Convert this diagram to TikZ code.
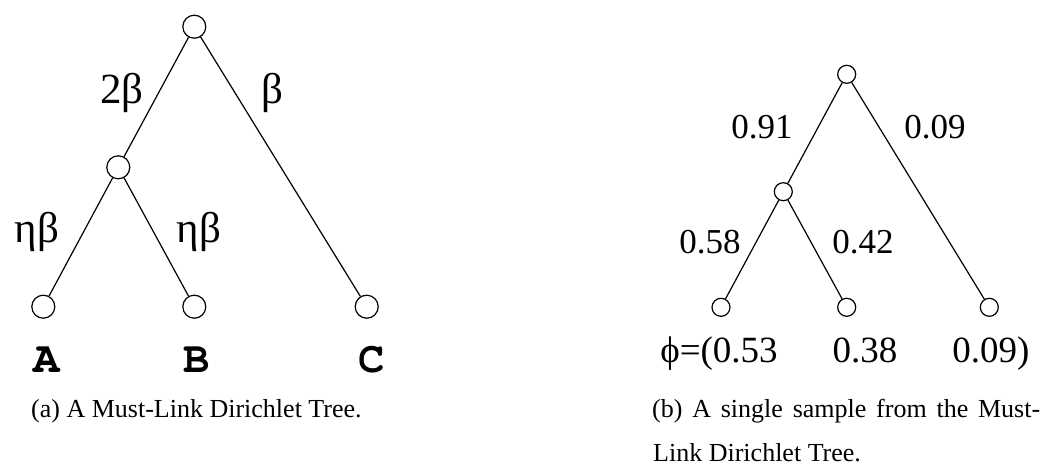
\documentclass[tikz,border=0pt]{standalone}
\usepackage{fontspec}
\setmainfont{Liberation Serif}
\newfontfamily\codefont{TeX Gyre Cursor}
\tikzset{
  vtx/.style={circle, draw, line width=1.2pt, fill=white, inner sep=0pt},
  bigvtx/.style={vtx, minimum size=23pt},
  smallvtx/.style={vtx, minimum size=18pt},
  edge/.style={line width=1.2pt},
  lblA/.style={inner sep=0pt, anchor=base, font=\fontsize{43}{50}\selectfont},
  leafA/.style={inner sep=0pt, anchor=base, font=\codefont\bfseries\fontsize{44}{50}\selectfont},
  lblB/.style={inner sep=0pt, anchor=base, font=\fontsize{35}{42}\selectfont},
  leafB/.style={inner sep=0pt, anchor=base, font=\fontsize{37}{44}\selectfont},
  captext/.style={inner sep=0pt, anchor=base west, font=\fontsize{26}{31}\selectfont},
}
\begin{document}
\begin{tikzpicture}[x=1pt, y=-1pt]
\useasboundingbox (0,0) rectangle (1043,468);

% (a) must-link Dirichlet tree
\node[bigvtx] (ra) at (194.3,26.7) {};
\node[bigvtx] (ma) at (118.3,167.3) {};
\node[bigvtx] (la) at (43.3,306.7) {};
\node[bigvtx] (lb) at (194.3,306.7) {};
\node[bigvtx] (lc) at (366.7,306.7) {};
\draw[edge] (ra) -- (ma);
\draw[edge] (ra) -- (lc);
\draw[edge] (ma) -- (la);
\draw[edge] (ma) -- (lb);
\node[lblA] (w1) at (122,103) {2β};
\node[lblA] (w2) at (272,103) {β};
\node[lblA] (w3) at (37,242) {ηβ};
\node[lblA] (w4) at (199,242) {ηβ};
\node[leafA] (ta) at (47,372) {A};
\node[leafA] (tb) at (197,372) {B};
\node[leafA] (tc) at (372,372) {C};

% (b) one sample drawn from the tree
\node[smallvtx] (rb) at (846.7,74.3) {};
\node[smallvtx] (mb) at (783.3,191.7) {};
\node[smallvtx] (sa) at (721,307.3) {};
\node[smallvtx] (sb) at (846.7,307.3) {};
\node[smallvtx] (sc) at (989.3,307.3) {};
\draw[edge] (rb) -- (mb);
\draw[edge] (rb) -- (sc);
\draw[edge] (mb) -- (sa);
\draw[edge] (mb) -- (sb);
\node[lblB] (p1) at (762,138) {0.91};
\node[lblB] (p2) at (935,138) {0.09};
\node[lblB] (p3) at (710,253) {0.58};
\node[lblB] (p4) at (863,253) {0.42};
\node[leafB] (q1) at (719,362) {ϕ=(0.53};
\node[leafB] (q2) at (865,362) {0.38};
\node[leafB] (q3) at (991,362) {0.09)};

% captions
\node[captext] (ca) at (31,417) {(a) A Must-Link Dirichlet Tree.};
\node[captext] (cb1) at (652,417) {\makebox[388pt][s]{(b) A single sample from the Must-}};
\node[captext] (cb2) at (653,461) {Link Dirichlet Tree.};
\end{tikzpicture}
\end{document}
